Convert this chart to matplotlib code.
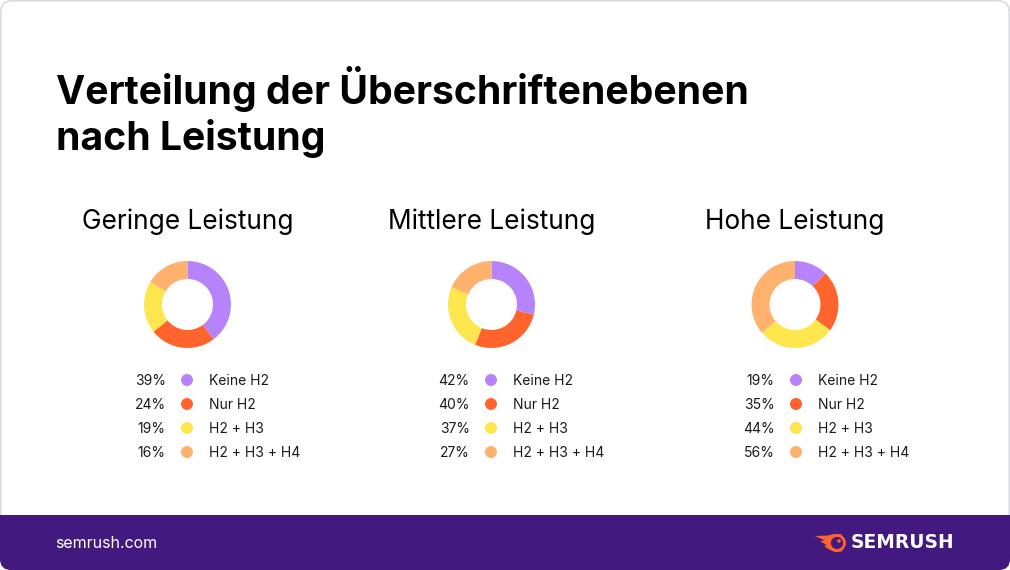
import matplotlib
matplotlib.use('Agg')
import matplotlib.pyplot as plt
from matplotlib.patches import FancyBboxPatch, Rectangle, Circle, Polygon

plt.rcParams['font.family'] = ['Inter', 'DejaVu Sans']

title_lines = ['Verteilung der Überschriftenebenen', 'nach Leistung']
groups = ['Geringe Leistung', 'Mittlere Leistung', 'Hohe Leistung']
levels = ['Keine H2', 'Nur H2', 'H2 + H3', 'H2 + H3 + H4']
low = [39, 24, 19, 16]
mid = [42, 40, 37, 27]
high = [19, 35, 44, 56]
colors = ['#b683fb', '#ff642d', '#ffe54e', '#ffb26e']
footer_text = 'semrush.com'
brand = 'SEMRUSH'

W, H = 1010, 570
fig = plt.figure(figsize=(W / 100, H / 100), dpi=100, facecolor='white')
bg = fig.add_axes([0, 0, 1, 1])
bg.set_xlim(0, W)
bg.set_ylim(H, 0)
bg.axis('off')

# card and footer
card = FancyBboxPatch((0.8, 0.8), W - 1.6, H - 1.6, boxstyle='round,pad=0,rounding_size=11',
                      fc='white', ec='#d3d6df', lw=1)
bg.add_patch(card)
footer = FancyBboxPatch((0, 490), W, H - 490, boxstyle='round,pad=0,rounding_size=11',
                        fc='#42197f', ec='none', zorder=2)
bg.add_patch(footer)
footer.set_clip_path(Rectangle((0, 515), W, 55, transform=bg.transData))

for i, line in enumerate(title_lines):
    bg.text(56, 89.5 + i * 49.5, line, fontsize=28.2, fontweight='bold', color='black',
            va='center', ha='left')

centers = [187.5, 491.5, 795]
legend_x = [187.5, 491.5, 796.5]
for cx, lx, name, vals in zip(centers, legend_x, groups, [low, mid, high]):
    bg.text(cx, 222, name, fontsize=18.9, color='black', va='center', ha='center')
    r = 43.5
    ax = fig.add_axes([(cx - r - 2) / W, 1 - (304.5 + r + 2) / H, (2 * r + 4) / W, (2 * r + 4) / H])
    ax.pie(vals, colors=colors, startangle=90, counterclock=False, radius=r / (r + 2),
           wedgeprops={'width': 18 / (r + 2)})
    ax.set_xlim(-1, 1)
    ax.set_ylim(-1, 1)
    for j, (label, v) in enumerate(zip(levels, vals)):
        y = 381 + j * 24
        bg.text(lx - 22, y, f'{v}%', fontsize=10, color='#1a1a1a', va='center', ha='right')
        bg.add_patch(Circle((lx - 0.5, y - 1), 6, fc=colors[j], ec='none'))
        bg.text(lx + 21.5, y, label, fontsize=10, color='#1a1a1a', va='center', ha='left')

bg.text(55, 543.5, footer_text, fontsize=11.5, color='white', va='center', ha='left', zorder=3)

# logo
flame = [(815, 536), (828, 535.5), (834, 534), (842, 534.5), (842, 551.5), (835, 552),
         (829, 549.5), (824, 546), (827, 545.5), (820, 541), (825, 540.5)]
bg.add_patch(Polygon(flame, closed=True, fc='#ff642d', ec='none', zorder=3))
bg.add_patch(Circle((837, 543), 7.5, fc='#42197f', ec='#ff642d', lw=2, zorder=4))
bg.add_patch(Circle((839, 541), 1.8, fc='#ff642d', ec='none', zorder=5))
bg.text(851, 543, brand, fontsize=13.4, fontweight='bold', color='white', va='center', ha='left',
        family='DejaVu Sans', zorder=3)

fig.savefig('out.png', dpi=100)
